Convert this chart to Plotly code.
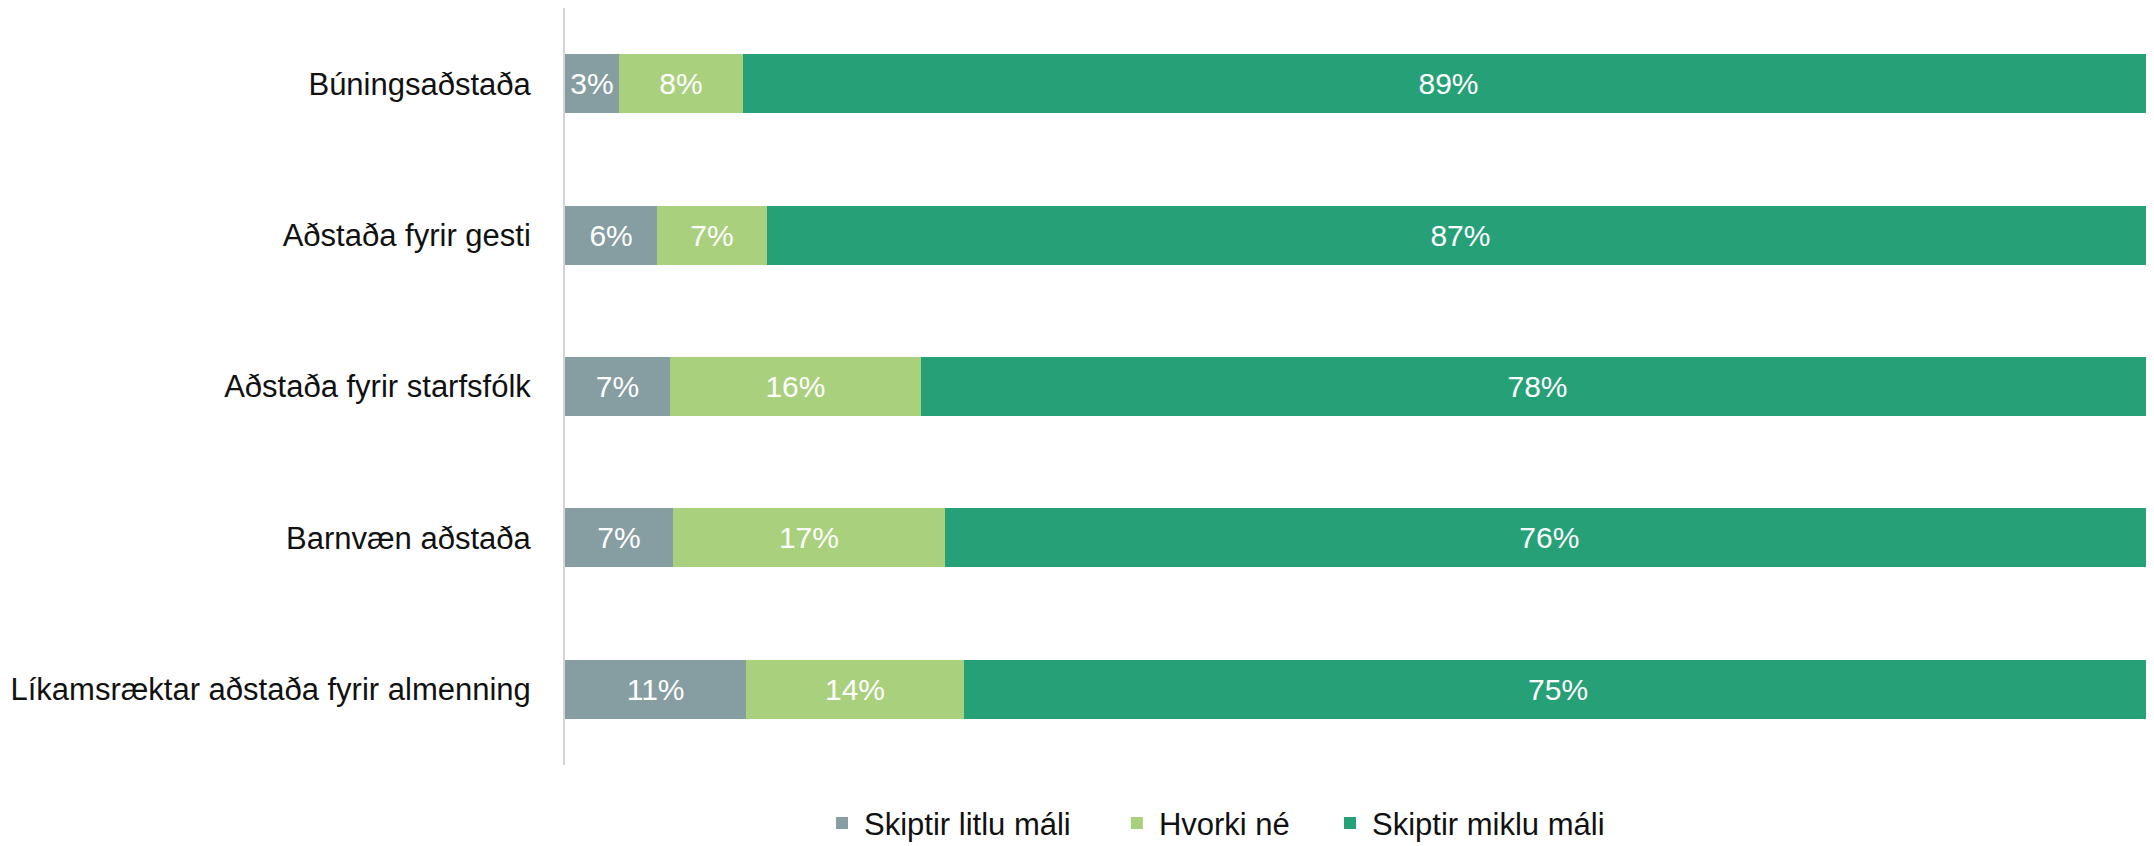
import plotly.graph_objects as go

categories = [
    "Búningsaðstaða",
    "Aðstaða fyrir gesti",
    "Aðstaða fyrir starfsfólk",
    "Barnvæn aðstaða",
    "Líkamsræktar aðstaða fyrir almenning",
]
series_names = ["Skiptir litlu máli", "Hvorki né", "Skiptir miklu máli"]
litlu = [3.4, 5.8, 6.6, 6.8, 11.4]
hvorki = [7.8, 6.9, 15.8, 17.1, 13.7]
miklu = [88.8, 87.3, 77.6, 76.1, 74.8]
colors = ["#869da1", "#a9d07c", "#26a077"]

FONT = "Liberation Sans, Arial, sans-serif"
legend_ids = ["legend", "legend2", "legend3"]
legend_x = [0.3784, 0.5158, 0.6151]

fig = go.Figure()
for name, vals, col, lid in zip(series_names, [litlu, hvorki, miklu], colors, legend_ids):
    fig.add_trace(go.Bar(
        y=categories, x=vals, name=name, orientation="h", legend=lid,
        marker=dict(color=col, line=dict(width=0)),
        texttemplate="%{x:.0f}%", textposition="inside",
        insidetextanchor="middle",
        insidetextfont=dict(color="white", size=30, family=FONT),
        hoverinfo="skip",
    ))

legend_common = dict(
    orientation="h", xref="container", yref="container",
    xanchor="left", y=0.027, yanchor="middle",
    font=dict(size=31, family=FONT, color="#111111"),
    itemclick=False, itemwidth=34, bgcolor="rgba(0,0,0,0)",
)

fig.update_layout(
    barmode="stack",
    bargap=0.61,
    width=2146, height=838,
    margin=dict(l=557, r=0, t=0, b=81, autoexpand=False),
    paper_bgcolor="white", plot_bgcolor="white",
    font=dict(family=FONT, size=31, color="#111111"),
    showlegend=True,
    legend=dict(x=legend_x[0], **legend_common),
    legend2=dict(x=legend_x[1], **legend_common),
    legend3=dict(x=legend_x[2], **legend_common),
    xaxis=dict(range=[0, 100], visible=False, fixedrange=True),
    yaxis=dict(
        autorange="reversed", showline=True, linecolor="#d4d4d4", linewidth=2,
        showgrid=False, zeroline=False, ticks="", ticklabelstandoff=26,
        tickfont=dict(size=31, family=FONT, color="#111111"),
    ),
)

fig.write_html("out.html")
